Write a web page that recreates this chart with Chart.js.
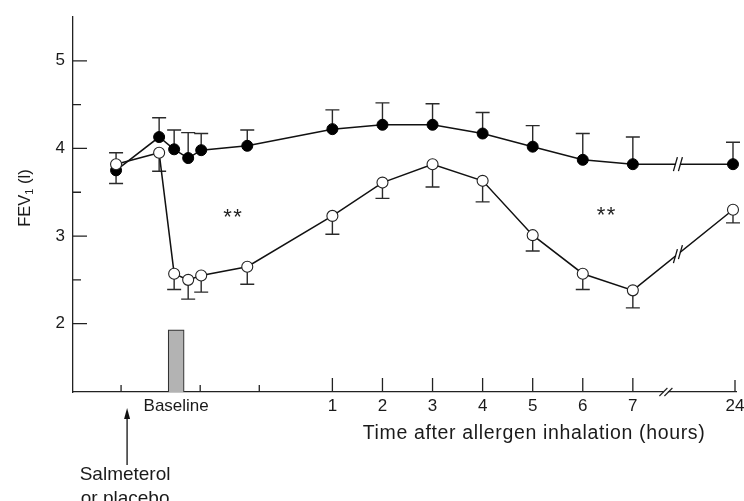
<!DOCTYPE html>
<html>
<head>
<meta charset="utf-8">
<script src="https://cdn.jsdelivr.net/npm/chart.js@4.4.0/dist/chart.umd.min.js"></script>
<style>
  html, body { margin: 0; padding: 0; background: #fff; }
  canvas { display: block; }
</style>
</head>
<body>
<canvas id="fev-chart" width="744" height="501"></canvas>
<script>
// x positions of the measurements (baseline region is schematic, 24 h sits after the axis break)
const timePos = [-3.32, -2.46, -2.16, -1.88, -1.62, -0.70, 1, 2, 3, 4, 5, 6, 7, 9.0];

// FEV1 (l) - salmeterol (filled) and placebo (open), mean and SEM
const salmMean = [3.75, 4.13, 3.99, 3.89, 3.98, 4.03, 4.22, 4.27, 4.27, 4.17, 4.02, 3.87, 3.82, 3.82];
const salmSem  = [0.20, 0.22, 0.22, 0.29, 0.19, 0.18, 0.22, 0.25, 0.24, 0.24, 0.24, 0.30, 0.31, 0.25];
const placMean = [3.82, 3.95, 2.57, 2.50, 2.55, 2.65, 3.23, 3.61, 3.82, 3.63, 3.01, 2.57, 2.38, 3.30];
const placSem  = [0.22, 0.21, 0.18, 0.22, 0.19, 0.20, 0.21, 0.18, 0.26, 0.24, 0.18, 0.18, 0.20, 0.15];

// axis ticks
const xTickPos = [-2.12, 1, 2, 3, 4, 5, 6, 7, 9.04];
const xTickLabels = ['Baseline', '1', '2', '3', '4', '5', '6', '7', '24'];
const xMinorTicks = [-3.22, -1.64, -0.46];
const yTicks = [2, 3, 4, 5];
const yMinorTicks = [2.5, 3.5, 4.5];

// allergen inhalation bar, significance marks, break between 7 and 24 h
const allergenBar = [{x: -2.12, y: 1.93}];
const starMarks = [{x: -0.98, y: 3.25}, {x: 6.48, y: 3.27}];
const lineBreakAt = 7.9;
const axisBreakAt = 7.66;
const arrowAt = -3.1;

const FONT = '"Liberation Sans", Arial, Helvetica, sans-serif';

const toPoints = (ys) => timePos.map((t, i) => ({x: t, y: ys[i]}));

function slash(c, x, y, dx, dy) {
  c.beginPath();
  c.moveTo(x - dx, y + dy);
  c.lineTo(x + dx, y - dy);
  c.stroke();
}

const extras = {
  id: 'extras',
  beforeDatasetsDraw(chart) {
    const c = chart.ctx, xs = chart.scales.x, ys = chart.scales.y;
    c.save();
    c.strokeStyle = '#2a2a2a';
    c.lineWidth = 1.4;
    const errBar = (t, from, to) => {
      const px = xs.getPixelForValue(t);
      const y1 = ys.getPixelForValue(from), y2 = ys.getPixelForValue(to);
      c.beginPath();
      c.moveTo(px, y1); c.lineTo(px, y2);
      c.moveTo(px - 7, y2); c.lineTo(px + 7, y2);
      c.stroke();
    };
    timePos.forEach((t, i) => {
      errBar(t, salmMean[i], salmMean[i] + salmSem[i]);
      errBar(t, placMean[i], placMean[i] - placSem[i]);
    });
    c.restore();
  },
  afterDatasetsDraw(chart) {
    const c = chart.ctx, xs = chart.scales.x, ys = chart.scales.y;
    const n = timePos.length;
    c.save();
    // "//" breaks on both lines between 7 h and 24 h
    [salmMean, placMean].forEach(series => {
      const x1 = xs.getPixelForValue(timePos[n - 2]), x2 = xs.getPixelForValue(timePos[n - 1]);
      const y1 = ys.getPixelForValue(series[n - 2]), y2 = ys.getPixelForValue(series[n - 1]);
      const bx = xs.getPixelForValue(lineBreakAt);
      const by = y1 + (y2 - y1) * (bx - x1) / (x2 - x1);
      const slope = (y2 - y1) / (x2 - x1);
      c.strokeStyle = '#fff';
      c.lineWidth = 4;
      c.beginPath();
      c.moveTo(bx - 2, by - 2 * slope); c.lineTo(bx + 2, by + 2 * slope);
      c.stroke();
      c.strokeStyle = '#111';
      c.lineWidth = 1.3;
      slash(c, bx - 2.5, by - 2.5 * slope, 2, 7);
      slash(c, bx + 2.5, by + 2.5 * slope, 2, 7);
    });
    c.restore();
  },
  afterDraw(chart) {
    const c = chart.ctx, xs = chart.scales.x, ys = chart.scales.y;
    const a = chart.chartArea;
    c.save();
    c.strokeStyle = '#222';
    c.lineWidth = 1.3;
    // inward tick marks
    c.beginPath();
    yTicks.forEach(v => { const y = ys.getPixelForValue(v); c.moveTo(a.left, y); c.lineTo(a.left + 14, y); });
    yMinorTicks.forEach(v => { const y = ys.getPixelForValue(v); c.moveTo(a.left, y); c.lineTo(a.left + 8, y); });
    xMinorTicks.forEach(v => { const x = xs.getPixelForValue(v); c.moveTo(x, a.bottom); c.lineTo(x, a.bottom - 7); });
    xTickPos.slice(1).forEach((v, i) => {
      const x = xs.getPixelForValue(v);
      c.moveTo(x, a.bottom); c.lineTo(x, a.bottom - (i === xTickPos.length - 2 ? 12 : 14));
    });
    c.stroke();

    // axis break
    const ax = xs.getPixelForValue(axisBreakAt);
    c.strokeStyle = '#fff';
    c.lineWidth = 3;
    c.beginPath(); c.moveTo(ax - 2, a.bottom); c.lineTo(ax + 2, a.bottom); c.stroke();
    c.strokeStyle = '#222';
    c.lineWidth = 1.2;
    slash(c, ax - 2.5, a.bottom, 4, 4);
    slash(c, ax + 2.5, a.bottom, 4, 4);

    // significance stars
    c.fillStyle = '#222';
    c.font = '22px ' + FONT;
    c.textAlign = 'center';
    c.textBaseline = 'middle';
    c.letterSpacing = '1.5px';
    starMarks.forEach(s => c.fillText('**', xs.getPixelForValue(s.x), ys.getPixelForValue(s.y) + 4));
    c.letterSpacing = '0px';

    // x axis title
    c.fillStyle = '#1a1a1a';
    c.font = '19.5px ' + FONT;
    c.letterSpacing = '0.65px';
    c.textAlign = 'center';
    c.textBaseline = 'alphabetic';
    c.fillText('Time after allergen inhalation (hours)', 534, 439);
    c.letterSpacing = '0px';

    // arrow and note
    const arx = xs.getPixelForValue(arrowAt);
    c.strokeStyle = '#111';
    c.lineWidth = 1.3;
    c.beginPath(); c.moveTo(arx, 465); c.lineTo(arx, 415); c.stroke();
    c.fillStyle = '#111';
    c.beginPath(); c.moveTo(arx, 408); c.lineTo(arx - 3, 419); c.lineTo(arx + 3, 419); c.closePath(); c.fill();
    c.fillStyle = '#1a1a1a';
    c.font = '19px ' + FONT;
    c.fillText('Salmeterol', arx - 2, 480);
    c.fillText('or placebo', arx - 2, 504);

    // y axis title with subscript
    c.save();
    c.translate(30, 198);
    c.rotate(-Math.PI / 2);
    const big = '16.5px ' + FONT, small = '11px ' + FONT;
    c.font = big; const w1 = c.measureText('FEV').width; const w3 = c.measureText(' (l)').width;
    c.font = small; const w2 = c.measureText('1').width;
    const x0 = -(w1 + w2 + w3) / 2;
    c.textAlign = 'left';
    c.font = big; c.fillText('FEV', x0, 0);
    c.font = small; c.fillText('1', x0 + w1, 3);
    c.font = big; c.fillText(' (l)', x0 + w1 + w2, 0);
    c.restore();

    c.restore();
  }
};

new Chart(document.getElementById('fev-chart').getContext('2d'), {
  type: 'line',
  data: {
    datasets: [
      {
        label: 'Salmeterol',
        data: toPoints(salmMean),
        borderColor: '#111',
        borderWidth: 1.5,
        pointRadius: 5.5,
        pointBackgroundColor: '#000',
        pointBorderColor: '#000',
        pointBorderWidth: 1,
        clip: false,
        order: 1
      },
      {
        label: 'Placebo',
        data: toPoints(placMean),
        borderColor: '#111',
        borderWidth: 1.5,
        pointRadius: 5.5,
        pointBackgroundColor: '#fff',
        pointBorderColor: '#222',
        pointBorderWidth: 1.1,
        clip: false,
        order: 0
      },
      {
        type: 'bar',
        label: 'Allergen',
        data: allergenBar,
        barThickness: 16,
        backgroundColor: '#b3b3b3',
        borderColor: '#333',
        borderWidth: 1.2,
        order: 2
      }
    ]
  },
  options: {
    responsive: false,
    animation: false,
    layout: { padding: { top: 17, right: 8, left: 0, bottom: 0 } },
    plugins: { legend: { display: false }, tooltip: { enabled: false } },
    scales: {
      x: {
        type: 'linear',
        min: -4.18,
        max: 9.06,
        offset: false,
        grid: { display: false, drawTicks: false },
        border: { display: true, color: '#222', width: 1.3 },
        afterBuildTicks: (scale) => { scale.ticks = xTickPos.map(v => ({ value: v })); },
        afterFit: (scale) => { scale.height = 109; scale.paddingLeft = 0; scale.paddingRight = 0; },
        ticks: {
          autoSkip: false,
          maxRotation: 0,
          padding: 4,
          color: '#1a1a1a',
          font: { family: FONT, size: 17 },
          callback: (v, i) => xTickLabels[i]
        }
      },
      y: {
        min: 1.22,
        max: 5.5,
        grid: { display: false, drawTicks: false },
        border: { display: true, color: '#222', width: 1.3 },
        afterBuildTicks: (scale) => { scale.ticks = yTicks.map(v => ({ value: v })); },
        afterFit: (scale) => { scale.width = 73; scale.paddingTop = 0; scale.paddingBottom = 0; },
        ticks: {
          padding: 8,
          color: '#1a1a1a',
          font: { family: FONT, size: 17 },
          callback: (v) => String(v)
        }
      }
    }
  },
  plugins: [extras]
});
</script>
</body>
</html>
